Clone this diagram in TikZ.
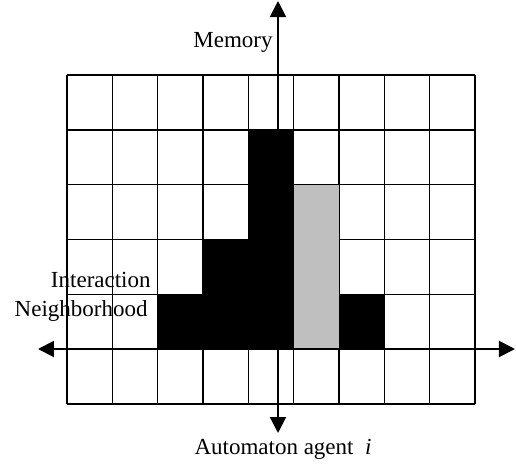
\documentclass[tikz,border=0pt]{standalone}
\usepackage{fontspec}
\setmainfont{Liberation Serif}
\usetikzlibrary{arrows.meta}
\tikzset{
  gridline/.style={line width=0.7pt},
  blackcell/.style={fill=black},
  graycell/.style={fill=black!25},
  axisline/.style={{Triangle[length=8pt,width=8pt]}-{Triangle[length=8pt,width=8pt]},
    line width=1pt},
  axislabel/.style={inner sep=0pt, font=\fontsize{11.5}{13}\selectfont},
}
\newcommand{\cellw}{45.33}
\newcommand{\cellh}{54.83}

\begin{document}
\begin{tikzpicture}[x=0.5pt, y=0.5pt]
  \useasboundingbox (0,0) rectangle (516,463);

  % Grid: 9 columns, 6 rows
  \foreach \c in {0,...,9}
    \draw[gridline] ({67+\cellw*\c},59) -- ({67+\cellw*\c},388);
  \foreach \r in {0,...,6}
    \draw[gridline] (67,{59+\cellh*\r}) -- (475,{59+\cellh*\r});

  % Filled cells (column / row counted from the top)
  \foreach \c/\r in {4/1, 4/2, 3/3, 4/3, 2/4, 3/4, 4/4, 6/4}
    \fill[blackcell] ({67+\cellw*\c},{388-\cellh*\r}) rectangle ++(\cellw,-\cellh);
  \foreach \r in {2,3,4}
    \fill[graycell] ({67+\cellw*5},{388-\cellh*\r}) rectangle ++(\cellw,-\cellh);

  % Axes
  \coordinate (memtop) at (278,462);
  \coordinate (agentbot) at (278,30);
  \coordinate (leftend) at (38,114);
  \coordinate (rightend) at (515,114);
  \draw[axisline] (agentbot) -- (memtop);
  \draw[axisline] (leftend) -- (rightend);

  % Labels
  \node[axislabel, anchor=base east] (memlabel) at (273,416) {Memory};
  \node[axislabel, anchor=base east] (intlabel) at (151,176) {Interaction};
  \node[axislabel, anchor=base east] (nbhlabel) at (148,147) {Neighborhood};
  \node[axislabel, anchor=base] (agentlabel) at (283,9) {Automaton agent~~\textit{i}};
\end{tikzpicture}
\end{document}
